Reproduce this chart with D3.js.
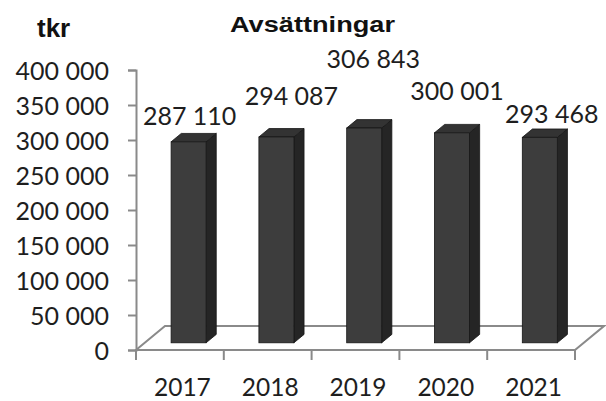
<!DOCTYPE html>
<html><head><meta charset="utf-8">
<script src="https://cdn.jsdelivr.net/npm/d3@7/dist/d3.min.js"></script>
<style>
html,body{margin:0;padding:0;background:#fff;}
svg{display:block;}
</style></head>
<body>
<svg id="chart" width="606" height="401"></svg>
<script>
// ---- data ----
const years = ["2017", "2018", "2019", "2020", "2021"];
const values = [287110, 294087, 306843, 300001, 293468];
const yTicks = [0, 50000, 100000, 150000, 200000, 250000, 300000, 350000, 400000];
const title = "Avsättningar";
const unitLabel = "tkr";
// label nudges (layout, px) relative to bar front-top
const labelDx = [1, 15, 9, 5, 12];
const labelDy = [-17, -32, -60, -33, -14];

(function () {
const svg = d3.select("#chart");
const fmt = d3.formatLocale({decimal: ",", thousands: " ", grouping: [3], currency: ["", ""]}).format(",d");

const plotL = 136, plotR = 575, plotT = 70, plotB = 350;
const floorDx = 29, floorDy = -24;
const dFront = 0.3, dBack = 0.65;
const barW = 35;
const axisColor = "#8a8a8a";
const textColor = "#1e1e1e";
const numFont = "Lato, 'Open Sans', sans-serif";

const x = d3.scaleBand().domain(years).range([plotL, plotR]).paddingInner(0).paddingOuter(0);
const y = d3.scaleLinear().domain([0, 400000]).range([plotB, plotT]);

// floor
svg.append("path")
  .attr("d", `M${plotL},${plotB} L${plotR},${plotB} L${plotR + floorDx},${plotB + floorDy} L${plotL + floorDx},${plotB + floorDy} Z`)
  .attr("fill", "#fff").attr("stroke", axisColor).attr("stroke-width", 2);

// y axis
const yAxis = d3.axisLeft(y).tickValues(yTicks).tickFormat(fmt).tickSize(8).tickPadding(20);
const gy = svg.append("g").attr("transform", `translate(${plotL},0)`).call(yAxis);
gy.select(".domain").attr("stroke", axisColor).attr("stroke-width", 2);
gy.selectAll(".tick line").attr("stroke", axisColor).attr("stroke-width", 2);
gy.selectAll(".tick text")
  .attr("font-family", numFont).attr("font-size", 25).attr("fill", textColor)
  .attr("dy", "0.36em").attr("x", -27);

// x axis ticks (category boundaries)
const bounds = years.map(d => x(d)).concat([x(years[years.length - 1]) + x.bandwidth()]);
svg.append("g").selectAll("line").data(bounds).join("line")
  .attr("x1", d => d).attr("x2", d => d)
  .attr("y1", plotB).attr("y2", plotB + 10)
  .attr("stroke", axisColor).attr("stroke-width", 2);
svg.append("line").attr("x1", plotL).attr("x2", plotR).attr("y1", plotB).attr("y2", plotB)
  .attr("stroke", axisColor).attr("stroke-width", 2);

// x labels
svg.append("g").selectAll("text").data(years).join("text")
  .attr("x", d => x(d) + x.bandwidth() / 2 + 2.5)
  .attr("y", 395.5)
  .attr("text-anchor", "middle")
  .attr("font-family", numFont).attr("font-size", 24.5).attr("fill", textColor)
  .text(d => d);

// bars (3D)
const fdx = floorDx * dFront, fdy = floorDy * dFront;
const sdx = floorDx * (dBack - dFront), sdy = floorDy * (dBack - dFront);
const bars = svg.append("g").selectAll("g").data(years.map((d, i) => ({year: d, v: values[i], i})))
  .join("g");
bars.each(function(d) {
  const g = d3.select(this);
  const x0 = x(d.year) + (x.bandwidth() - barW) / 2 + fdx;
  const x1 = x0 + barW;
  const yb = y(0) + fdy;
  const yt = y(d.v) + fdy;
  g.append("path")
    .attr("d", `M${x1},${yt} L${x1 + sdx},${yt + sdy} L${x1 + sdx},${yb + sdy} L${x1},${yb} Z`)
    .attr("fill", "#252525").attr("stroke", "#161616").attr("stroke-width", 0.8);
  g.append("path")
    .attr("d", `M${x0},${yt} L${x0 + sdx},${yt + sdy} L${x1 + sdx},${yt + sdy} L${x1},${yt} Z`)
    .attr("fill", "#333333").attr("stroke", "#161616").attr("stroke-width", 0.8);
  g.append("rect")
    .attr("x", x0).attr("y", yt).attr("width", barW).attr("height", yb - yt)
    .attr("fill", "#3d3d3d").attr("stroke", "#161616").attr("stroke-width", 0.8);
});

// value labels
svg.append("g").selectAll("text").data(values).join("text")
  .attr("x", (v, i) => x(years[i]) + x.bandwidth() / 2 + fdx + labelDx[i])
  .attr("y", (v, i) => y(v) + fdy + labelDy[i])
  .attr("text-anchor", "middle")
  .attr("font-family", numFont).attr("font-size", 25).attr("fill", textColor)
  .text(v => fmt(v));

// title + unit
svg.append("text").attr("x", 230).attr("y", 31.5)
  .attr("font-family", "'Liberation Sans', Arial, sans-serif").attr("font-weight", "bold")
  .attr("font-size", 22).attr("fill", "#111")
  .attr("textLength", 165).attr("lengthAdjust", "spacingAndGlyphs")
  .text(title);
svg.append("text").attr("x", 37).attr("y", 37)
  .attr("font-family", "'Liberation Sans', Arial, sans-serif").attr("font-weight", "bold")
  .attr("font-size", 26).attr("fill", "#111")
  .text(unitLabel);
})();
</script>
</body></html>
